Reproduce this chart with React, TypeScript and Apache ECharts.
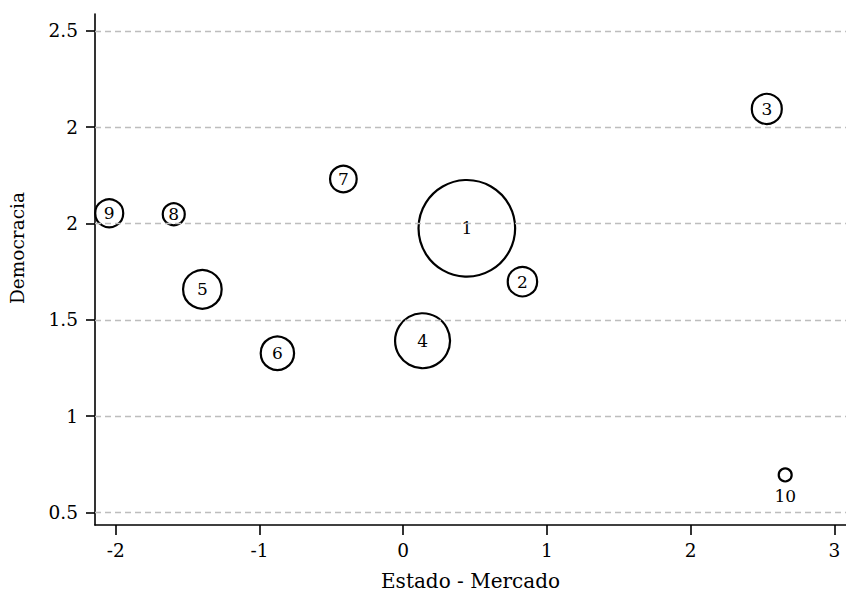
import React, { useEffect, useRef } from "react";
import * as echarts from "echarts";

const ids = ["1", "2", "3", "4", "5", "6", "7", "8", "9", "10"];
const estadoMercado = [0.443, 0.83, 2.53, 0.135, -1.397, -0.875, -0.416, -1.596, -2.045, 2.658];
const democracia = [1.975, 1.698, 2.595, 1.391, 1.658, 1.326, 2.231, 2.048, 2.053, 0.694];
const weights = [233, 21.6, 22.5, 75.5, 37.2, 27.8, 17.7, 12.1, 19.6, 4.2];

const xTickValues = [-2, -1, 0, 1, 2, 3];
const xTickLabels = ["-2", "-1", "0", "1", "2", "3"];
const yTickValues = [0.5, 1, 1.5, 2, 2.5, 3];
const yTickLabels = ["0.5", "1", "1.5", "2", "2", "2.5"];

const xTitle = "Estado - Mercado";
const yTitle = "Democracia";

const FONT = "DejaVu Serif";

export default function App() {
  const ref = useRef<HTMLDivElement>(null);
  useEffect(() => {
    document.body.style.margin = "0";
    const chart = echarts.init(ref.current!, null, { renderer: "svg" });
    const data = ids.map((id, i) => ({
      value: [estadoMercado[i], democracia[i], weights[i]],
      name: id,
      label: id === "10" ? { position: "bottom", distance: 5 } : undefined,
    }));
    chart.setOption({
      animation: false,
      backgroundColor: "#fff",
      grid: { left: 95, right: 0, top: 14, bottom: 75 },
      xAxis: {
        type: "value",
        min: -2.144,
        max: 3.081,
        name: xTitle,
        nameLocation: "middle",
        nameGap: 46,
        nameTextStyle: { fontFamily: FONT, fontSize: 20, color: "#000" },
        axisLine: { show: true, onZero: false, lineStyle: { color: "#000", width: 1.6 } },
        axisTick: { show: true, length: 10, customValues: xTickValues, lineStyle: { color: "#000", width: 1.6 } },
        axisLabel: {
          customValues: xTickValues,
          formatter: (v: number) => xTickLabels[xTickValues.indexOf(Math.round(v))] ?? "",
          fontFamily: FONT,
          fontSize: 18.5,
          color: "#000",
          margin: 16,
        },
        splitLine: { show: false },
      },
      yAxis: {
        type: "value",
        min: 0.434,
        max: 3.088,
        axisLine: { show: true, onZero: false, lineStyle: { color: "#000", width: 1.6 } },
        axisTick: { show: true, length: 9, customValues: yTickValues, lineStyle: { color: "#000", width: 1.6 } },
        axisLabel: {
          customValues: yTickValues,
          formatter: (v: number) => {
            const i = yTickValues.findIndex((t) => Math.abs(t - v) < 1e-6);
            return i >= 0 ? yTickLabels[i] : "";
          },
          fontFamily: FONT,
          fontSize: 18.5,
          color: "#000",
          margin: 17,
        },
        splitLine: { show: false },
      },
      graphic: [
        {
          type: "text",
          x: 17,
          y: 248,
          rotation: Math.PI / 2,
          style: {
            text: yTitle,
            fontFamily: FONT,
            fontSize: 18.5,
            fill: "#000",
            align: "center",
            verticalAlign: "middle",
          },
        },
      ],
      series: [
        {
          type: "scatter",
          data,
          symbol: "circle",
          symbolSize: (v: number[]) => Math.sqrt(v[2]) * 6.33,
          itemStyle: { color: "rgba(0,0,0,0)", borderColor: "#000", borderWidth: 2.2, opacity: 1 },
          label: {
            show: true,
            position: "inside",
            formatter: (p: any) => p.name,
            fontFamily: FONT,
            fontSize: 17,
            color: "#000",
            textBorderWidth: 0,
            textBorderColor: "transparent",
          },
          emphasis: { disabled: true },
          markLine: {
            silent: true,
            symbol: "none",
            label: { show: false },
            lineStyle: { color: "#bdbdbd", type: [6, 4], width: 1.4 },
            data: yTickValues.map((v) => ({ yAxis: v })),
          },
          z: 3,
        },
      ],
    });
    return () => chart.dispose();
  }, []);
  return <div ref={ref} style={{ width: 846, height: 600 }} />;
}
